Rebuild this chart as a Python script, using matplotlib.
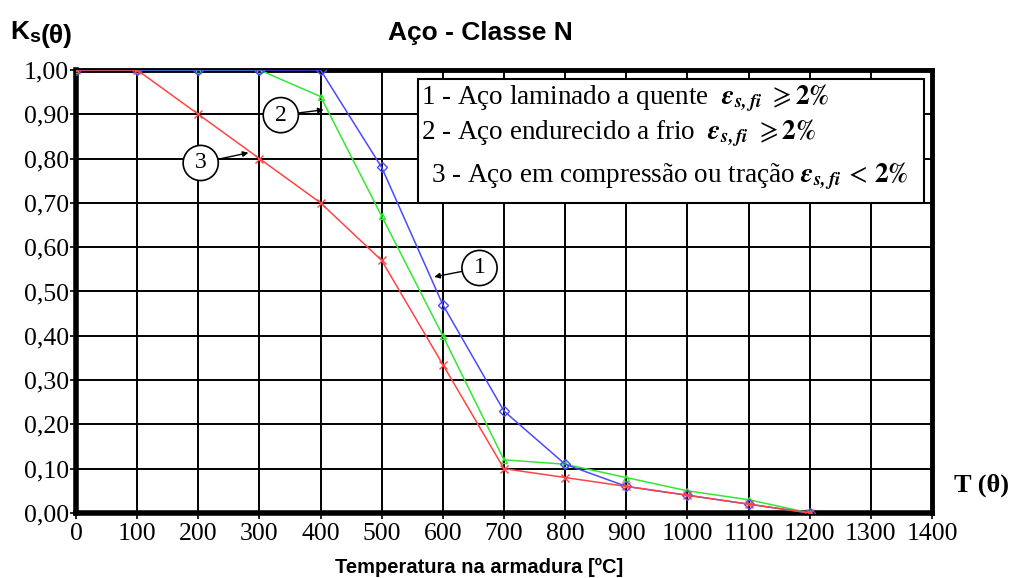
import numpy as np
import matplotlib
matplotlib.use('Agg')
import matplotlib.pyplot as plt

plt.rcParams['mathtext.fontset'] = 'stix'

# temperatures [ºC]
temp = [0, 100, 200, 300, 400, 500, 600, 700, 800, 900, 1000, 1100, 1200]
# 1 - hot rolled
ks_1 = [1.00, 1.00, 1.00, 1.00, 1.00, 0.78, 0.47, 0.23, 0.11, 0.06, 0.04, 0.02, 0.00]
# 2 - cold worked
ks_2 = [1.00, 1.00, 1.00, 1.00, 0.94, 0.67, 0.40, 0.12, 0.11, 0.08, 0.05, 0.03, 0.00]
# 3 - compression / traction < 2%
ks_3 = [1.00, 1.00, 0.90, 0.80, 0.70, 0.57, 0.335, 0.10, 0.08, 0.06, 0.04, 0.02, 0.00]

x_ticks = np.arange(0, 1401, 100)
y_ticks = np.round(np.arange(0, 1.001, 0.1), 2)
y_labels = ['{:.2f}'.format(v).replace('.', ',') for v in y_ticks]

eps = r'$\mathbfit{\varepsilon}_{\mathbfit{s,fi}}$'
legend_lines = [
    '1 - Aço laminado a quente  ' + eps + r' $\geqslant\mathbf{2\%}$',
    '2 - Aço endurecido a frio  ' + eps + r' $\geqslant\mathbf{2\%}$',
    '3 - Aço em compressão ou tração ' + eps + r'$\,<\,\mathbf{2\%}$',
]

serif = 'Liberation Serif'
sans = 'Liberation Sans'

fig = plt.figure(figsize=(10.13, 5.78), dpi=100, facecolor='w')
ax = fig.add_axes([0.075, 0.1125, 0.845, 0.7665])

ax.plot(temp, ks_1, color='#4a4aff', lw=1.1, marker='D', ms=5, mfc='none', mew=1, zorder=4)
ax.plot(temp, ks_2, color='#33e833', lw=1.1, marker='^', ms=5, mfc='none', mew=1, zorder=3)
ax.plot(temp, ks_3, color='#ff4444', lw=1.1, marker='x', ms=6, mew=1, zorder=5)

ax.set_xlim(0, 1400)
ax.set_ylim(0, 1.0)
ax.set_xticks(x_ticks)
ax.set_yticks(y_ticks)
ax.set_yticklabels(y_labels)
for lab in ax.get_xticklabels() + ax.get_yticklabels():
    lab.set_fontfamily(serif)
    lab.set_fontsize(18.5)
ax.tick_params(direction='out', length=4, width=1.2, pad=1, color='black')
ax.tick_params(axis='x', pad=3)
ax.grid(color='black', lw=1.4, zorder=1)
ax.set_axisbelow(True)
ax.spines['left'].set_linewidth(4)
ax.spines['bottom'].set_linewidth(4)
ax.spines['top'].set_linewidth(3.5)
ax.spines['right'].set_linewidth(3.5)

# legend box
leg_x = [0.403, 0.403, 0.415]
leg_y = [0.937, 0.858, 0.761]
for i, txt in enumerate(legend_lines):
    ax.text(leg_x[i], leg_y[i], txt, transform=ax.transAxes,
            family=serif, fontsize=19.5, va='center', ha='left', zorder=7)
box = plt.Rectangle((0.3995, 0.70), 0.5915, 0.28, transform=ax.transAxes, facecolor='white',
                    edgecolor='black', lw=1.5, zorder=6)
ax.add_patch(box)

# circled labels
circ = dict(boxstyle='circle,pad=0.3', fc='white', ec='black', lw=1.2)
arr = dict(arrowstyle='-|>', color='black', lw=1, mutation_scale=8, shrinkA=0, shrinkB=0)
ax.annotate('2', xy=(405, 0.91), xytext=(335, 0.898), fontsize=17, family=serif,
            ha='center', va='center', bbox=circ, arrowprops=arr, zorder=8)
ax.annotate('3', xy=(282, 0.813), xytext=(204, 0.79), fontsize=17, family=serif,
            ha='center', va='center', bbox=circ, arrowprops=arr, zorder=8)
ax.annotate('1', xy=(586, 0.533), xytext=(660, 0.553), fontsize=17, family=serif,
            ha='center', va='center', bbox=circ, arrowprops=arr, zorder=8)

fig.text(0.4745, 0.943, 'Aço - Classe N', family=sans, fontsize=19, fontweight='bold',
         ha='center', va='center')
fig.text(0.01, 0.945, 'K', family=sans, fontsize=19, fontweight='bold', ha='left', va='center')
fig.text(0.0285, 0.935, 's', family=sans, fontsize=14, fontweight='bold', ha='left', va='center')
fig.text(0.0405, 0.938, '(θ)', family=sans, fontsize=19, fontweight='bold', ha='left', va='center')
fig.text(0.4725, 0.019, 'Temperatura na armadura [ºC]', family=sans, fontsize=14.5,
         fontweight='bold', ha='center', va='center')
fig.text(0.942, 0.161, 'T (θ)', family=serif, fontsize=19, fontweight='bold', ha='left', va='center')

fig.savefig('out.png', dpi=100, facecolor='w')
